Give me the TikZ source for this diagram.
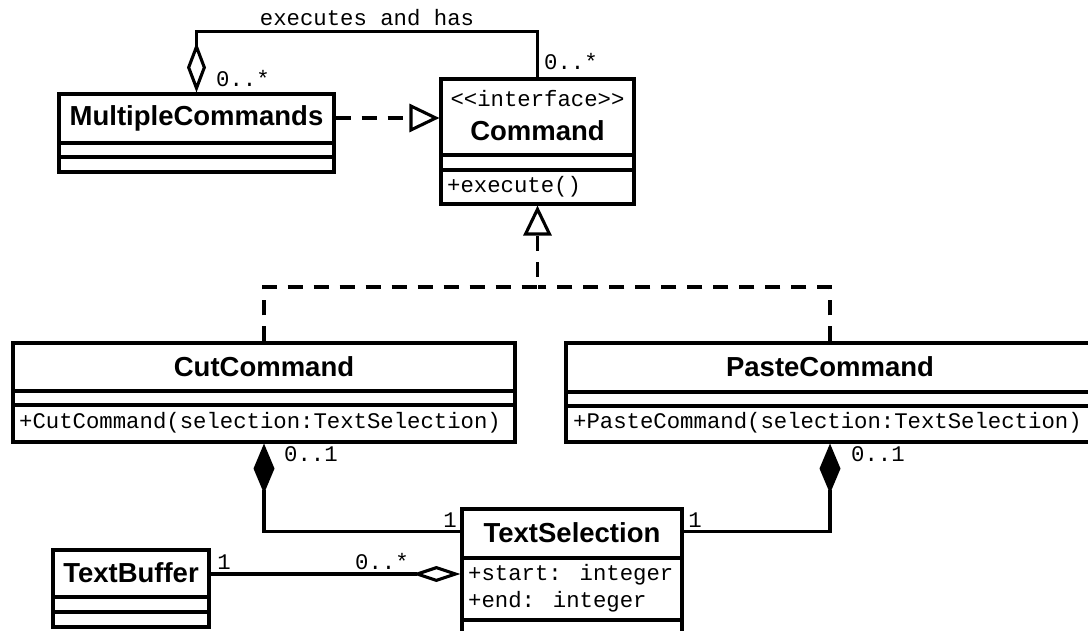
\documentclass[tikz,border=0pt]{standalone}
\usepackage{fontspec}
\setmainfont{Liberation Sans}
\newfontfamily\umlmono{Liberation Mono}
\usetikzlibrary{arrows.meta}
\begin{document}
\begin{tikzpicture}[x=1pt,y=-1pt,
  cls/.style={draw, line width=3.1pt, inner sep=0pt, fill=white},
  title/.style={font=\fontsize{27.5}{32}\selectfont\bfseries, inner sep=0pt},
  mono/.style={font=\umlmono\fontsize{22.3}{26}\selectfont, inner sep=0pt},
  conn/.style={line width=3.1pt},
  dsh/.style={dash pattern=on 15pt off 11pt},
  realtip/.style={-{Triangle[open, fill=white, length=30pt, width=28pt]}},
  aggtip/.style={-{Diamond[open, fill=white, length=50pt, width=19pt]}},
  aggtipb/.style={-{Diamond[open, fill=white, length=48pt, width=16pt]}},
  comptip/.style={-{Diamond[length=50pt, width=21pt]}}
]
\useasboundingbox (0,0) rectangle (1088,630);

% ---- MultipleCommands
\node[cls, minimum width=275pt, minimum height=78pt] (mc) at (196.5,133) {};
\draw[conn] (mc.west |- 0,143) -- (mc.east |- 0,143);
\draw[conn] (mc.west |- 0,157) -- (mc.east |- 0,157);
\node[title] (mct) at (196.5,118.5) {MultipleCommands};

% ---- Command
\node[cls, minimum width=193pt, minimum height=125pt] (cmd) at (537.5,141.5) {};
\draw[conn] (cmd.west |- 0,155) -- (cmd.east |- 0,155);
\draw[conn] (cmd.west |- 0,170) -- (cmd.east |- 0,170);
\node[mono] (cmds) at (537.5,99) {<<interface>>};
\node[title] (cmdt) at (537.5,131) {Command};
\node[mono, anchor=west] (cmdm) at (447,187) {+execute()};

% ---- CutCommand
\node[cls, minimum width=502pt, minimum height=99pt] (cut) at (264,392.5) {};
\draw[conn] (cut.west |- 0,391) -- (cut.east |- 0,391);
\draw[conn] (cut.west |- 0,405) -- (cut.east |- 0,405);
\node[title] (cutt) at (264,367) {CutCommand};
\node[mono, anchor=west] (cutm) at (19,423) {+CutCommand(selection:TextSelection)};

% ---- PasteCommand
\node[cls, minimum width=528pt, minimum height=99pt] (paste) at (830,392.5) {};
\draw[conn] (paste.west |- 0,392) -- (paste.east |- 0,392);
\draw[conn] (paste.west |- 0,406) -- (paste.east |- 0,406);
\node[title] (pastet) at (830,367) {PasteCommand};
\node[mono, anchor=west] (pastem) at (573,423) {+PasteCommand(selection:TextSelection)};

% ---- TextSelection
\node[cls, minimum width=220pt, minimum height=160pt] (ts) at (572,589) {};
\draw[conn] (ts.west |- 0,558) -- (ts.east |- 0,558);
\draw[conn] (ts.west |- 0,620) -- (ts.east |- 0,620);
\node[title] (tst) at (572,533) {TextSelection};
\node[mono, anchor=west] (tsa) at (468,575) {+start: integer};
\node[mono, anchor=west] (tsb) at (468,602) {+end: integer};

% ---- TextBuffer
\node[cls, minimum width=156pt, minimum height=77pt] (tb) at (131,588.5) {};
\draw[conn] (tb.west |- 0,597) -- (tb.east |- 0,597);
\draw[conn] (tb.west |- 0,612) -- (tb.east |- 0,612);
\node[title] (tbt) at (131,573) {TextBuffer};

% ---- connectors
\draw[conn, aggtip] (cmd.north) -- ++(0,-46) -| (mc.north);
\node[mono] (l1) at (367,18) {executes and has};
\node[mono, anchor=west] (l2) at (216,79) {0..*};
\node[mono, anchor=west] (l3) at (544,62) {0..*};

\draw[conn, dsh, realtip] ([yshift=15pt]mc.east) -- ([yshift=15pt]mc.east -| cmd.west);

\coordinate (j) at (cmd.south |- 0,287);
\draw[conn, dsh, realtip] (cut.north) |- (j) -- (cmd.south);
\draw[conn, dsh] (paste.north) |- (j);

\draw[conn, comptip] ([yshift=-24pt]ts.north west) -| (cut.south);
\draw[conn, comptip] ([yshift=-24pt]ts.north east) -| (paste.south);
\node[mono, anchor=west] (l4) at (284,454) {0..1};
\node[mono, anchor=west] (l5) at (851,454) {0..1};
\node[mono] (l6) at (450,520) {1};
\node[mono] (l7) at (695,520) {1};

\draw[conn, aggtipb] ([yshift=14.5pt]tb.east) -- ([yshift=14.5pt]tb.east -| ts.west);
\node[mono] (l8) at (224,562) {1};
\node[mono, anchor=west] (l9) at (355,562) {0..*};
\end{tikzpicture}
\end{document}
